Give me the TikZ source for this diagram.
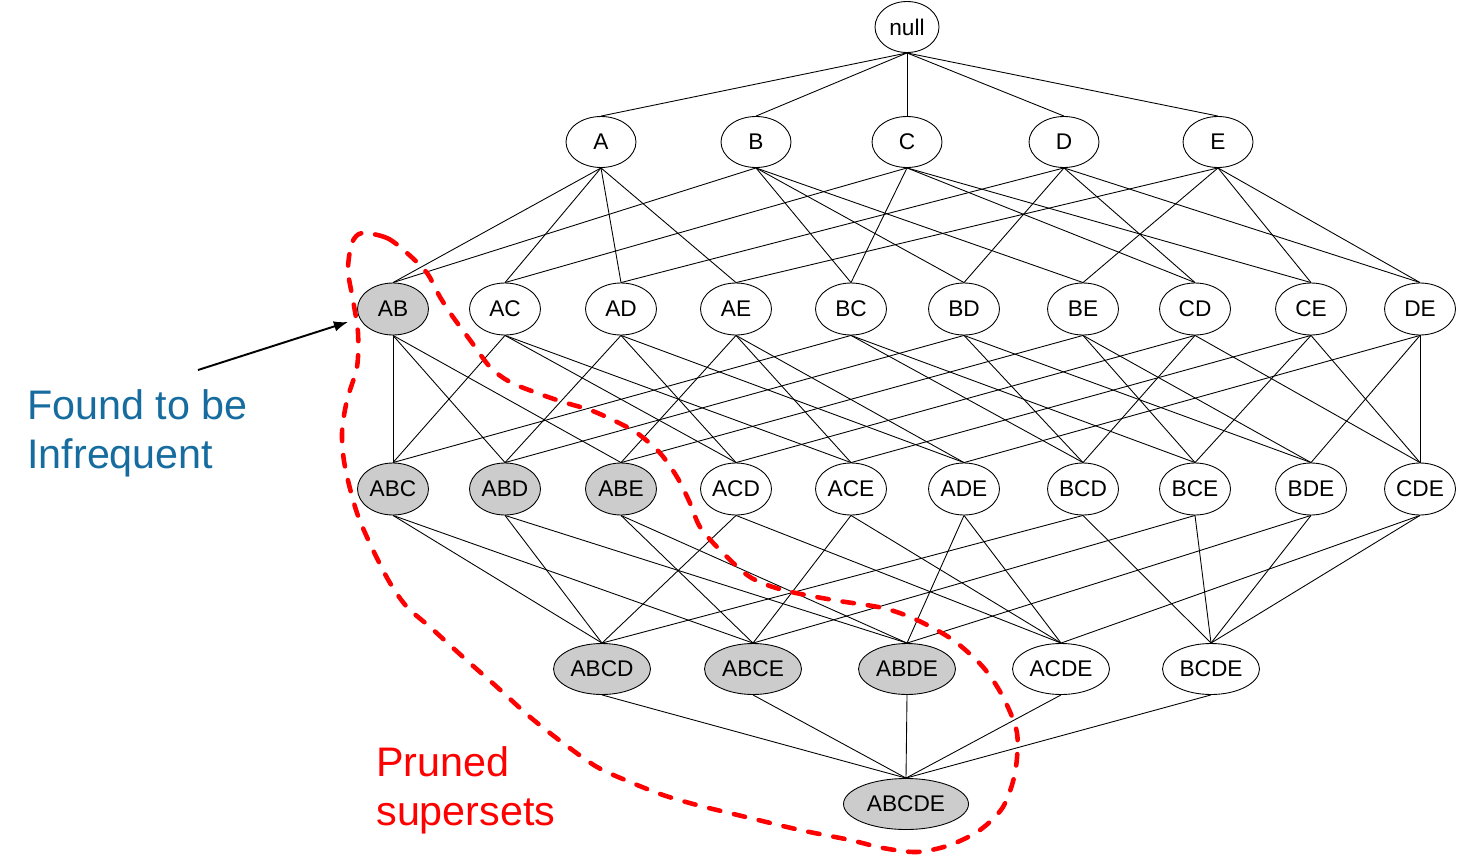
\documentclass[tikz,border=0pt]{standalone}
\usepackage{fontspec}
\setmainfont{Liberation Sans}
\usetikzlibrary{shapes.geometric,arrows.meta}
\definecolor{infblue}{RGB}{22,108,158}
\definecolor{prunegray}{RGB}{204,204,204}
\definecolor{prunered}{RGB}{255,0,0}
\tikzset{
  set/.style={ellipse,draw=black,line width=0.5pt,fill=white,inner sep=0pt,
    minimum width=1.42cm,minimum height=1.04cm,font=\fontsize{12.9}{15}\selectfont},
  lone/.style={set,minimum width=1.40cm,minimum height=1.02cm},
  lfour/.style={set,minimum width=1.94cm,minimum height=1.02cm},
  lfive/.style={set,minimum width=2.50cm,minimum height=1.02cm},
  lnull/.style={set,minimum width=1.28cm,minimum height=1.02cm},
  pruned/.style={fill=prunegray},
  edge/.style={draw=black,line width=0.5pt},
  bigtext/.style={font=\fontsize{23.5}{27.8}\selectfont,align=left,inner sep=0pt}
}
\begin{document}
\begin{tikzpicture}[x=0.02cm,y=-0.02cm]
\useasboundingbox (0,0) rectangle (1459,865);
% level 0
\node[lnull] (null) at (907,27) {null};
% level 1
\node[lone] (A) at (601,142) {A};
\node[lone] (B) at (756,142) {B};
\node[lone] (C) at (907,142) {C};
\node[lone] (D) at (1064,142) {D};
\node[lone] (E) at (1218,142) {E};
% level 2
\node[set,pruned] (AB) at (393,309) {AB};
\node[set] (AC) at (505,309) {AC};
\node[set] (AD) at (621,309) {AD};
\node[set] (AE) at (736,309) {AE};
\node[set] (BC) at (851,309) {BC};
\node[set] (BD) at (964,309) {BD};
\node[set] (BE) at (1083,309) {BE};
\node[set] (CD) at (1195,309) {CD};
\node[set] (CE) at (1311,309) {CE};
\node[set] (DE) at (1420,309) {DE};
% level 3
\node[set,pruned] (ABC) at (393,489) {ABC};
\node[set,pruned] (ABD) at (505,489) {ABD};
\node[set,pruned] (ABE) at (621,489) {ABE};
\node[set] (ACD) at (736,489) {ACD};
\node[set] (ACE) at (851,489) {ACE};
\node[set] (ADE) at (964,489) {ADE};
\node[set] (BCD) at (1083,489) {BCD};
\node[set] (BCE) at (1195,489) {BCE};
\node[set] (BDE) at (1311,489) {BDE};
\node[set] (CDE) at (1420,489) {CDE};
% level 4
\node[lfour,pruned] (ABCD) at (602,669) {ABCD};
\node[lfour,pruned] (ABCE) at (753,669) {ABCE};
\node[lfour,pruned] (ABDE) at (907,669) {ABDE};
\node[lfour] (ACDE) at (1061,669) {ACDE};
\node[lfour] (BCDE) at (1211,669) {BCDE};
% level 5
\node[lfive,pruned] (ABCDE) at (906,804) {ABCDE};
% edges
\foreach \c in {A,B,C,D,E} \draw[edge] (null.south) -- (\c.north);
\foreach \c/\ps in {AB/{A,B},AC/{A,C},AD/{A,D},AE/{A,E},BC/{B,C},BD/{B,D},BE/{B,E},CD/{C,D},CE/{C,E},DE/{D,E},
  ABC/{AB,AC,BC},ABD/{AB,AD,BD},ABE/{AB,AE,BE},ACD/{AC,AD,CD},ACE/{AC,AE,CE},ADE/{AD,AE,DE},
  BCD/{BC,BD,CD},BCE/{BC,BE,CE},BDE/{BD,BE,DE},CDE/{CD,CE,DE},
  ABCD/{ABC,ABD,ACD,BCD},ABCE/{ABC,ABE,ACE,BCE},ABDE/{ABD,ABE,ADE,BDE},ACDE/{ACD,ACE,ADE,CDE},BCDE/{BCD,BCE,BDE,CDE},
  ABCDE/{ABCD,ABCE,ABDE,ACDE,BCDE}}
  \foreach \p in \ps \draw[edge] (\p.south) -- (\c.north);
% pruned region
\draw[prunered,line width=2.6pt,dash pattern=on 6.5pt off 8pt,line cap=round]
  plot[smooth cycle] coordinates {(362,233) (387,238) (407,253) (427,273) (440,297) (453,317) (470,340) (490,367) (510,382) (537,393) (563,402) (590,410) (613,420) (637,433) (660,453) (677,477) (690,503) (700,527) (720,550) (750,577) (783,590) (833,600) (883,608) (917,620) (953,640) (983,667) (1003,697) (1017,733) (1015,773) (1003,807) (980,830) (950,845) (917,852) (883,848) (850,840) (800,830) (750,818) (697,805) (663,795) (630,782) (597,767) (563,743) (530,717) (497,687) (463,657) (430,627) (407,607) (390,583) (373,550) (357,513) (345,467) (342,433) (347,400) (357,367) (358,333) (353,300) (348,270) (352,243)};
% annotation
\coordinate (arrowstart) at (198,370);
\coordinate (arrowend) at (348,322);
\draw[line width=1.1pt,-{Latex[length=8pt,width=6pt]}] (arrowstart) -- (arrowend);
\node[bigtext,text=infblue,anchor=west] (found) at (27,433) {Found to be\\Infrequent};
\node[bigtext,text=prunered,anchor=west] (prunedlabel) at (376,790) {Pruned\\supersets};
\end{tikzpicture}
\end{document}
